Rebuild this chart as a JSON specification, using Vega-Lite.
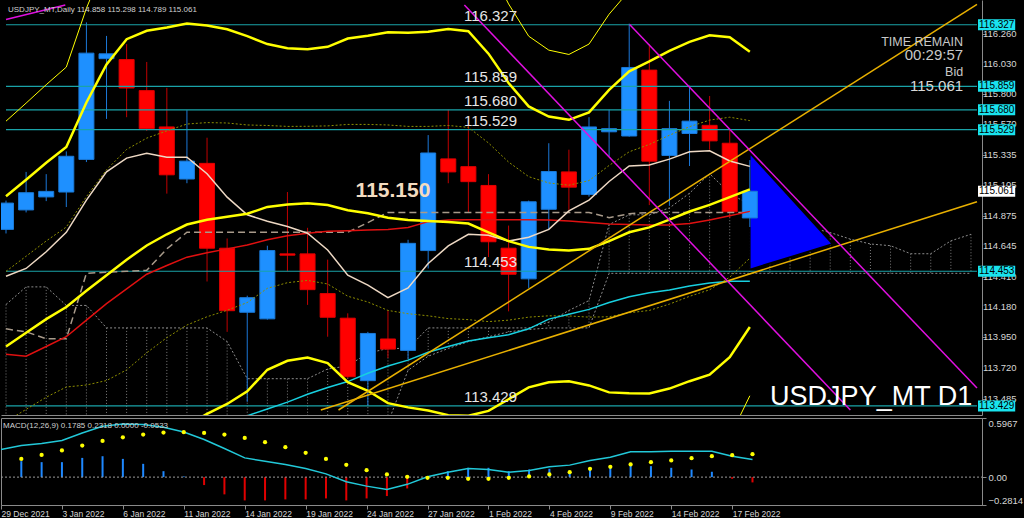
{
"$schema": "https://vega.github.io/schema/vega-lite/v6.json",
"background": "#000000",
"padding": 0,
"spacing": 2,
"config": {
  "view": {"stroke": null},
  "axis": {"grid": false, "title": null, "domainColor": "#8a8a8a", "tickColor": "#8a8a8a", "labelColor": "#d6d6d6", "labelFont": "Liberation Sans", "labelFontSize": 9.5, "labelOverlap": false, "labelFlush": false},
  "text": {"font": "Liberation Sans"}
},
"datasets": {
  "bars": [
    {"i":0,"o":114.771,"h":114.99,"l":114.74,"c":114.971},
    {"i":1,"o":114.919,"h":115.208,"l":114.9,"c":115.05},
    {"i":2,"o":115.018,"h":115.191,"l":114.986,"c":115.06},
    {"i":3,"o":115.055,"h":115.364,"l":114.941,"c":115.327},
    {"i":4,"o":115.303,"h":116.345,"l":115.283,"c":116.111},
    {"i":5,"o":116.069,"h":116.242,"l":115.611,"c":116.106},
    {"i":6,"o":116.062,"h":116.18,"l":115.624,"c":115.846},
    {"i":7,"o":115.826,"h":116.044,"l":115.52,"c":115.537},
    {"i":8,"o":115.55,"h":115.847,"l":115.043,"c":115.186},
    {"i":9,"o":115.154,"h":115.678,"l":115.122,"c":115.29},
    {"i":10,"o":115.273,"h":115.468,"l":114.375,"c":114.628},
    {"i":11,"o":114.628,"h":114.702,"l":113.992,"c":114.153},
    {"i":12,"o":114.141,"h":114.267,"l":113.46,"c":114.252},
    {"i":13,"o":114.091,"h":114.647,"l":114.085,"c":114.61},
    {"i":14,"o":114.585,"h":115.055,"l":114.453,"c":114.575},
    {"i":15,"o":114.585,"h":114.783,"l":114.197,"c":114.313},
    {"i":16,"o":114.283,"h":114.541,"l":113.955,"c":114.103},
    {"i":17,"o":114.096,"h":114.133,"l":113.64,"c":113.651},
    {"i":18,"o":113.621,"h":113.992,"l":113.429,"c":113.98},
    {"i":19,"o":113.938,"h":114.153,"l":113.794,"c":113.861},
    {"i":20,"o":113.851,"h":114.692,"l":113.785,"c":114.665},
    {"i":21,"o":114.61,"h":115.488,"l":114.474,"c":115.352},
    {"i":22,"o":115.307,"h":115.681,"l":115.122,"c":115.208},
    {"i":23,"o":115.248,"h":115.599,"l":114.897,"c":115.134},
    {"i":24,"o":115.105,"h":115.191,"l":114.561,"c":114.677},
    {"i":25,"o":114.628,"h":114.8,"l":114.148,"c":114.43},
    {"i":26,"o":114.395,"h":114.99,"l":114.326,"c":114.981},
    {"i":27,"o":114.924,"h":115.426,"l":114.771,"c":115.211},
    {"i":28,"o":115.208,"h":115.377,"l":114.919,"c":115.092},
    {"i":29,"o":115.036,"h":115.624,"l":115.02,"c":115.55},
    {"i":30,"o":115.513,"h":115.681,"l":115.327,"c":115.537},
    {"i":31,"o":115.481,"h":116.335,"l":115.476,"c":116.002},
    {"i":32,"o":115.982,"h":116.18,"l":114.956,"c":115.29},
    {"i":33,"o":115.333,"h":115.748,"l":114.95,"c":115.537},
    {"i":34,"o":115.5,"h":115.864,"l":115.253,"c":115.594},
    {"i":35,"o":115.562,"h":115.785,"l":115.377,"c":115.444},
    {"i":36,"o":115.426,"h":115.525,"l":114.86,"c":114.905},
    {"i":37,"o":114.858,"h":115.298,"l":114.789,"c":115.061}
  ],
  "ind": [
    {"i":0,"u3":115.594,"u2":115.023,"u1":114.452,"m":113.881,"l1":113.31,"l2":112.739,"l3":112.168,"a5":114.415,"a25":113.822,"kj":114.015},
    {"i":1,"u3":115.731,"u2":115.149,"u1":114.567,"m":113.985,"l1":113.403,"l2":112.821,"l3":112.239,"a5":114.474,"a25":113.807,"kj":113.992},
    {"i":2,"u3":115.871,"u2":115.277,"u1":114.683,"m":114.089,"l1":113.495,"l2":112.901,"l3":112.307,"a5":114.601,"a25":113.881,"kj":113.94},
    {"i":3,"u3":116.005,"u2":115.397,"u1":114.789,"m":114.181,"l1":113.573,"l2":112.965,"l3":112.357,"a5":114.749,"a25":113.955,"kj":113.94},
    {"i":4,"u3":116.452,"u2":115.736,"u1":115.02,"m":114.304,"l1":113.588,"l2":112.872,"l3":112.156,"a5":114.994,"a25":114.081,"kj":114.437},
    {"i":5,"u3":116.826,"u2":116.025,"u1":115.224,"m":114.423,"l1":113.622,"l2":112.821,"l3":112.02,"a5":115.209,"a25":114.207,"kj":114.445},
    {"i":6,"u3":117.055,"u2":116.217,"u1":115.379,"m":114.541,"l1":113.703,"l2":112.865,"l3":112.027,"a5":115.313,"a25":114.319,"kj":114.452},
    {"i":7,"u3":117.097,"u2":116.281,"u1":115.465,"m":114.649,"l1":113.833,"l2":113.017,"l3":112.201,"a5":115.35,"a25":114.43,"kj":114.46},
    {"i":8,"u3":117.092,"u2":116.306,"u1":115.52,"m":114.734,"l1":113.948,"l2":113.162,"l3":112.376,"a5":115.32,"a25":114.497,"kj":114.623},
    {"i":9,"u3":117.1,"u2":116.336,"u1":115.572,"m":114.808,"l1":114.044,"l2":113.28,"l3":112.516,"a5":115.32,"a25":114.56,"kj":114.749},
    {"i":10,"u3":117.059,"u2":116.321,"u1":115.583,"m":114.845,"l1":114.107,"l2":113.369,"l3":112.631,"a5":115.194,"a25":114.593,"a75":113.243,"kj":114.749},
    {"i":11,"u3":117.004,"u2":116.292,"u1":115.58,"m":114.868,"l1":114.156,"l2":113.444,"l3":112.732,"a5":115.016,"a25":114.623,"a75":113.302,"kj":114.749},
    {"i":12,"u3":116.915,"u2":116.24,"u1":115.565,"m":114.89,"l1":114.215,"l2":113.54,"l3":112.865,"a5":114.882,"a25":114.652,"a75":113.354,"kj":114.749},
    {"i":13,"u3":116.799,"u2":116.18,"u1":115.561,"m":114.942,"l1":114.323,"l2":113.704,"l3":113.085,"a5":114.833,"a25":114.693,"a75":113.406,"kj":114.749},
    {"i":14,"u3":116.742,"u2":116.148,"u1":115.554,"m":114.96,"l1":114.366,"l2":113.772,"l3":113.178,"a5":114.793,"a25":114.723,"a75":113.458,"kj":114.749},
    {"i":15,"u3":116.727,"u2":116.141,"u1":115.555,"m":114.969,"l1":114.383,"l2":113.797,"l3":113.211,"a5":114.742,"a25":114.742,"a75":113.518,"kj":114.749},
    {"i":16,"u3":116.76,"u2":116.159,"u1":115.558,"m":114.957,"l1":114.356,"l2":113.755,"l3":113.154,"a5":114.615,"a25":114.756,"a75":113.569,"kj":114.749},
    {"i":17,"u3":116.875,"u2":116.222,"u1":115.569,"m":114.916,"l1":114.263,"l2":113.61,"l3":112.957,"a5":114.423,"a25":114.76,"a75":113.614,"kj":114.749},
    {"i":18,"u3":116.919,"u2":116.244,"u1":115.569,"m":114.894,"l1":114.219,"l2":113.544,"l3":112.869,"a5":114.348,"a25":114.767,"a75":113.677,"kj":114.823},
    {"i":19,"u3":116.975,"u2":116.27,"u1":115.565,"m":114.86,"l1":114.155,"l2":113.45,"l3":112.745,"a5":114.252,"a25":114.771,"a75":113.733,"kj":114.9},
    {"i":20,"u3":116.978,"u2":116.266,"u1":115.554,"m":114.842,"l1":114.13,"l2":113.418,"l3":112.706,"a5":114.326,"a25":114.786,"a75":113.777,"kj":114.9},
    {"i":21,"u3":116.994,"u2":116.274,"u1":115.554,"m":114.834,"l1":114.114,"l2":113.394,"l3":112.674,"a5":114.512,"a25":114.83,"a75":113.837,"kj":114.9},
    {"i":22,"u3":117.029,"u2":116.295,"u1":115.561,"m":114.827,"l1":114.093,"l2":113.359,"l3":112.625,"a5":114.645,"a25":114.842,"a75":113.881,"kj":114.9},
    {"i":23,"u3":117.009,"u2":116.278,"u1":115.547,"m":114.816,"l1":114.085,"l2":113.354,"l3":112.623,"a5":114.734,"a25":114.845,"a75":113.922,"kj":114.9},
    {"i":24,"u3":116.786,"u2":116.107,"u1":115.428,"m":114.749,"l1":114.07,"l2":113.391,"l3":112.712,"a5":114.727,"a25":114.845,"a75":113.948,"kj":114.9},
    {"i":25,"u3":116.485,"u2":115.884,"u1":115.283,"m":114.682,"l1":114.081,"l2":113.48,"l3":112.879,"a5":114.682,"a25":114.845,"a75":113.97,"kj":114.9},
    {"i":26,"u3":116.24,"u2":115.706,"u1":115.172,"m":114.638,"l1":114.104,"l2":113.57,"l3":113.036,"a5":114.712,"a25":114.845,"a75":114.015,"kj":114.9},
    {"i":27,"u3":116.134,"u2":115.629,"u1":115.124,"m":114.619,"l1":114.114,"l2":113.609,"l3":113.104,"a5":114.771,"a25":114.842,"a75":114.089,"kj":114.9},
    {"i":28,"u3":116.101,"u2":115.604,"u1":115.107,"m":114.61,"l1":114.113,"l2":113.616,"l3":113.119,"a5":114.912,"a25":114.834,"a75":114.126,"kj":114.9},
    {"i":29,"u3":116.18,"u2":115.661,"u1":115.142,"m":114.623,"l1":114.104,"l2":113.585,"l3":113.066,"a5":114.994,"a25":114.823,"a75":114.163,"kj":114.9},
    {"i":30,"u3":116.407,"u2":115.832,"u1":115.257,"m":114.682,"l1":114.107,"l2":113.532,"l3":112.957,"a5":115.135,"a25":114.812,"a75":114.215,"kj":114.86},
    {"i":31,"u3":116.585,"u2":115.973,"u1":115.361,"m":114.749,"l1":114.137,"l2":113.525,"l3":112.913,"a5":115.253,"a25":114.808,"a75":114.259,"kj":114.89},
    {"i":32,"u3":116.679,"u2":116.048,"u1":115.417,"m":114.786,"l1":114.155,"l2":113.524,"l3":112.893,"a5":115.261,"a25":114.805,"a75":114.289,"kj":114.9},
    {"i":33,"u3":116.771,"u2":116.129,"u1":115.487,"m":114.845,"l1":114.203,"l2":113.561,"l3":112.919,"a5":115.305,"a25":114.805,"a75":114.311,"kj":114.9},
    {"i":34,"u3":116.842,"u2":116.197,"u1":115.552,"m":114.907,"l1":114.262,"l2":113.617,"l3":112.972,"a5":115.361,"a25":114.816,"a75":114.341,"kj":114.9},
    {"i":35,"u3":116.892,"u2":116.247,"u1":115.602,"m":114.957,"l1":114.312,"l2":113.667,"l3":113.022,"a5":115.368,"a25":114.842,"a75":114.363,"kj":114.9},
    {"i":36,"u3":116.84,"u2":116.232,"u1":115.624,"m":115.016,"l1":114.408,"l2":113.8,"l3":113.192,"a5":115.291,"a25":114.875,"a75":114.376,"kj":114.9},
    {"i":37,"u3":116.644,"u2":116.121,"u1":115.598,"m":115.075,"l1":114.552,"l2":114.029,"l3":113.506,"a5":115.25,"a25":114.908,"a75":114.376,"kj":114.9}
  ],
  "cloud": [
    {"i":0,"a":114.2,"b":113.3},{"i":1,"a":114.334,"b":113.3},{"i":2,"a":114.334,"b":113.3},{"i":3,"a":114.193,"b":113.3},
    {"i":4,"a":114.193,"b":113.3},{"i":5,"a":114.022,"b":113.3},{"i":6,"a":114.022,"b":113.3},{"i":7,"a":114.022,"b":113.3},
    {"i":8,"a":114.022,"b":113.3},{"i":9,"a":114.022,"b":113.3},{"i":10,"a":114.022,"b":113.3},{"i":11,"a":113.918,"b":113.3},
    {"i":12,"a":113.636,"b":113.3},{"i":13,"a":113.636,"b":113.3},{"i":14,"a":113.636,"b":113.3},{"i":15,"a":113.636,"b":113.3},
    {"i":16,"a":113.71,"b":113.3},{"i":17,"a":113.733,"b":113.3},{"i":18,"a":113.83,"b":113.3},{"i":19,"a":113.866,"b":113.3},
    {"i":20,"a":113.866,"b":113.7},{"i":21,"a":114.022,"b":113.807},{"i":22,"a":114.022,"b":113.866},{"i":23,"a":114.022,"b":113.918},
    {"i":24,"a":114.022,"b":113.955},{"i":25,"a":114.022,"b":113.992},{"i":26,"a":114.022,"b":114.01},{"i":27,"a":114.066,"b":114.022},
    {"i":28,"a":114.155,"b":114.022},{"i":29,"a":114.23,"b":114.022},{"i":30,"a":114.808,"b":114.437},{"i":31,"a":114.882,"b":114.437},
    {"i":32,"a":114.882,"b":114.437},{"i":33,"a":114.934,"b":114.437},{"i":34,"a":115.046,"b":114.437},{"i":35,"a":115.194,"b":114.437},
    {"i":36,"a":115.046,"b":114.437},{"i":37,"a":114.957,"b":114.437},{"i":38,"a":114.833,"b":114.437},{"i":39,"a":114.801,"b":114.437},
    {"i":40,"a":114.784,"b":114.437},{"i":41,"a":114.747,"b":114.437},{"i":42,"a":114.697,"b":114.437},{"i":43,"a":114.66,"b":114.437},
    {"i":44,"a":114.647,"b":114.437},{"i":45,"a":114.586,"b":114.437},{"i":46,"a":114.586,"b":114.437},{"i":47,"a":114.684,"b":114.437},
    {"i":48,"a":114.734,"b":114.437}
  ],
  "levels": [{"p":116.327},{"p":115.859},{"p":115.68},{"p":115.529},{"p":114.453},{"p":113.429}],
  "ticks": [{"p":116.26},{"p":116.03},{"p":115.8},{"p":115.57},{"p":115.335},{"p":115.105},{"p":114.875},{"p":114.645},{"p":114.41},{"p":114.18},{"p":113.95},{"p":113.72},{"p":113.485}],
  "tl": [
    {"id":"g1","k":"gold","i":16.54,"p":113.398},{"id":"g1","k":"gold","i":48.3,"p":116.482},
    {"id":"g2","k":"gold","i":15.66,"p":113.398},{"id":"g2","k":"gold","i":48.3,"p":114.981},
    {"id":"m1","k":"mag","i":22.8,"p":116.477},{"id":"m1","k":"mag","i":42.0,"p":113.398},
    {"id":"m2","k":"mag","i":31.02,"p":116.329},{"id":"m2","k":"mag","i":48.3,"p":113.565},
    {"id":"m3","k":"mag","i":0,"p":116.366},{"id":"m3","k":"mag","i":2.95,"p":116.477}
  ],
  "tri": [{"i":37,"t":115.35,"b":114.467},{"i":41.11,"t":114.66,"b":114.66}],
  "macd": [
    {"i":0,"m":0.279},{"i":1,"m":0.319,"s":0.184,"h":0.161},{"i":2,"m":0.339,"s":0.224,"h":0.151},{"i":3,"m":0.369,"s":0.269,"h":0.151},
    {"i":4,"m":0.446,"s":0.319,"h":0.194},{"i":5,"m":0.513,"s":0.365,"h":0.211},{"i":6,"m":0.536,"s":0.402,"h":0.184},{"i":7,"m":0.53,"s":0.429,"h":0.134},
    {"i":8,"m":0.503,"s":0.45,"h":0.06},{"i":9,"m":0.456,"s":0.453,"h":0.007},{"i":10,"m":0.379,"s":0.446,"h":-0.08},{"i":11,"m":0.289,"s":0.429,"h":-0.174},
    {"i":12,"m":0.194,"s":0.395,"h":-0.235},{"i":13,"m":0.161,"s":0.352,"h":-0.235},{"i":14,"m":0.128,"s":0.302,"h":-0.225},{"i":15,"m":0.088,"s":0.245,"h":-0.225},
    {"i":16,"m":0.033,"s":0.184,"h":-0.215},{"i":17,"m":-0.047,"s":0.124,"h":-0.235},{"i":18,"m":-0.091,"s":0.07,"h":-0.215},{"i":19,"m":-0.124,"s":0.027,"h":-0.191},
    {"i":20,"m":-0.073,"s":0.003,"h":-0.114},{"i":21,"m":0.003,"s":-0.007,"h":0.01},{"i":22,"m":0.05,"s":-0.007,"h":0.06},{"i":23,"m":0.088,"s":-0.017,"h":0.094},
    {"i":24,"m":0.077,"s":-0.017,"h":0.094},{"i":25,"m":0.05,"s":-0.007,"h":0.06},{"i":26,"m":0.067,"s":0.007,"h":0.077},{"i":27,"m":0.104,"s":0.027,"h":0.084},
    {"i":28,"m":0.121,"s":0.05,"h":0.06},{"i":29,"m":0.168,"s":0.084,"h":0.094},{"i":30,"m":0.201,"s":0.104,"h":0.101},{"i":31,"m":0.255,"s":0.128,"h":0.144},
    {"i":32,"m":0.255,"s":0.151,"h":0.111},{"i":33,"m":0.262,"s":0.168,"h":0.094},{"i":34,"m":0.262,"s":0.191,"h":0.077},{"i":35,"m":0.262,"s":0.211,"h":0.054},
    {"i":36,"m":0.211,"s":0.221,"h":-0.017},{"i":37,"m":0.1785,"s":0.2318,"h":-0.0533}
  ]
},
"vconcat": [
{
  "width": 981,
  "height": 415,
  "layer": [
    {"data": {"name": "cloud"}, "mark": {"type": "rule", "strokeDash": [1, 2], "color": "#7c7c7c", "clip": true},
     "encoding": {
       "x": {"field": "i", "type": "quantitative", "scale": {"domain": [0, 48.3]}, "axis": {"labels": false, "ticks": false, "domain": true}},
       "y": {"field": "a", "type": "quantitative", "scale": {"domain": [113.398, 116.477]}, "axis": {"orient": "right", "values": [116.26, 116.03, 115.8, 115.57, 115.335, 115.105, 114.875, 114.645, 114.41, 114.18, 113.95, 113.72, 113.485], "labels": false, "tickSize": 4}},
       "y2": {"field": "b"}}},
    {"data": {"name": "cloud"}, "mark": {"type": "line", "strokeDash": [2, 2], "color": "#8c8c8c", "strokeWidth": 1, "clip": true},
     "encoding": {"x": {"field": "i", "type": "quantitative", "scale": {"domain": [0, 48.3]}}, "y": {"field": "a", "type": "quantitative", "scale": {"domain": [113.398, 116.477]}}}},
    {"data": {"name": "cloud"}, "mark": {"type": "line", "strokeDash": [2, 2], "color": "#8c8c8c", "strokeWidth": 1, "clip": true},
     "encoding": {"x": {"field": "i", "type": "quantitative", "scale": {"domain": [0, 48.3]}}, "y": {"field": "b", "type": "quantitative", "scale": {"domain": [113.398, 116.477]}}}},
    {"data": {"name": "tri"}, "mark": {"type": "area", "color": "#0000ff", "stroke": "#000000", "strokeWidth": 1.5, "opacity": 1, "clip": true},
     "encoding": {"x": {"field": "i", "type": "quantitative", "scale": {"domain": [0, 48.3]}}, "y": {"field": "t", "type": "quantitative", "scale": {"domain": [113.398, 116.477]}}, "y2": {"field": "b"}}},
    {"data": {"name": "bars"}, "mark": {"type": "rule", "strokeWidth": 1, "clip": true},
     "encoding": {"x": {"field": "i", "type": "quantitative", "scale": {"domain": [0, 48.3]}}, "y": {"field": "l", "type": "quantitative", "scale": {"domain": [113.398, 116.477]}}, "y2": {"field": "h"},
       "color": {"condition": {"test": "datum.c >= datum.o", "value": "#1c78d8"}, "value": "#c00000"}}},
    {"data": {"name": "bars"}, "mark": {"type": "bar", "size": 15, "strokeWidth": 1, "clip": true},
     "encoding": {"x": {"field": "i", "type": "quantitative", "scale": {"domain": [0, 48.3]}}, "y": {"field": "o", "type": "quantitative", "scale": {"domain": [113.398, 116.477]}}, "y2": {"field": "c"},
       "color": {"condition": {"test": "datum.c >= datum.o", "value": "#1e90ff"}, "value": "#ff0000"},
       "stroke": {"condition": {"test": "datum.c >= datum.o", "value": "#1a7ad8"}, "value": "#e00000"}}},
    {"data": {"name": "levels"}, "mark": {"type": "rule", "color": "#1aa3a8", "strokeWidth": 1.2},
     "encoding": {"x": {"datum": 0, "type": "quantitative", "scale": {"domain": [0, 48.3]}}, "x2": {"datum": 48.3}, "y": {"field": "p", "type": "quantitative", "scale": {"domain": [113.398, 116.477]}}}},
    {"data": {"name": "ind"}, "mark": {"type": "line", "color": "#ffff00", "strokeWidth": 1, "clip": true},
     "encoding": {"x": {"field": "i", "type": "quantitative", "scale": {"domain": [0, 48.3]}}, "y": {"field": "u3", "type": "quantitative", "scale": {"domain": [113.398, 116.477]}}}},
    {"data": {"name": "ind"}, "mark": {"type": "line", "color": "#ffff00", "strokeWidth": 1, "clip": true},
     "encoding": {"x": {"field": "i", "type": "quantitative", "scale": {"domain": [0, 48.3]}}, "y": {"field": "l3", "type": "quantitative", "scale": {"domain": [113.398, 116.477]}}}},
    {"data": {"name": "ind"}, "mark": {"type": "line", "color": "#8f8f00", "strokeWidth": 1, "strokeDash": [2, 2], "clip": true},
     "encoding": {"x": {"field": "i", "type": "quantitative", "scale": {"domain": [0, 48.3]}}, "y": {"field": "u1", "type": "quantitative", "scale": {"domain": [113.398, 116.477]}}}},
    {"data": {"name": "ind"}, "mark": {"type": "line", "color": "#8f8f00", "strokeWidth": 1, "strokeDash": [2, 2], "clip": true},
     "encoding": {"x": {"field": "i", "type": "quantitative", "scale": {"domain": [0, 48.3]}}, "y": {"field": "l1", "type": "quantitative", "scale": {"domain": [113.398, 116.477]}}}},
    {"data": {"name": "ind"}, "mark": {"type": "line", "color": "#a89a8a", "strokeWidth": 1.5, "strokeDash": [7, 4], "clip": true},
     "encoding": {"x": {"field": "i", "type": "quantitative", "scale": {"domain": [0, 48.3]}}, "y": {"field": "kj", "type": "quantitative", "scale": {"domain": [113.398, 116.477]}}}},
    {"data": {"name": "ind"}, "mark": {"type": "line", "color": "#e01010", "strokeWidth": 1.5, "clip": true},
     "encoding": {"x": {"field": "i", "type": "quantitative", "scale": {"domain": [0, 48.3]}}, "y": {"field": "a25", "type": "quantitative", "scale": {"domain": [113.398, 116.477]}}}},
    {"data": {"name": "ind"}, "mark": {"type": "line", "color": "#18d0e0", "strokeWidth": 1.5, "clip": true},
     "encoding": {"x": {"field": "i", "type": "quantitative", "scale": {"domain": [0, 48.3]}}, "y": {"field": "a75", "type": "quantitative", "scale": {"domain": [113.398, 116.477]}}}},
    {"data": {"name": "ind"}, "mark": {"type": "line", "color": "#eed9c4", "strokeWidth": 1.5, "clip": true},
     "encoding": {"x": {"field": "i", "type": "quantitative", "scale": {"domain": [0, 48.3]}}, "y": {"field": "a5", "type": "quantitative", "scale": {"domain": [113.398, 116.477]}}}},
    {"data": {"name": "ind"}, "mark": {"type": "line", "color": "#ffff00", "strokeWidth": 2.5, "clip": true},
     "encoding": {"x": {"field": "i", "type": "quantitative", "scale": {"domain": [0, 48.3]}}, "y": {"field": "u2", "type": "quantitative", "scale": {"domain": [113.398, 116.477]}}}},
    {"data": {"name": "ind"}, "mark": {"type": "line", "color": "#ffff00", "strokeWidth": 2.5, "clip": true},
     "encoding": {"x": {"field": "i", "type": "quantitative", "scale": {"domain": [0, 48.3]}}, "y": {"field": "m", "type": "quantitative", "scale": {"domain": [113.398, 116.477]}}}},
    {"data": {"name": "ind"}, "mark": {"type": "line", "color": "#ffff00", "strokeWidth": 2.5, "clip": true},
     "encoding": {"x": {"field": "i", "type": "quantitative", "scale": {"domain": [0, 48.3]}}, "y": {"field": "l2", "type": "quantitative", "scale": {"domain": [113.398, 116.477]}}}},
    {"data": {"name": "tl"}, "mark": {"type": "line", "strokeWidth": 1.5, "clip": true},
     "encoding": {"x": {"field": "i", "type": "quantitative", "scale": {"domain": [0, 48.3]}}, "y": {"field": "p", "type": "quantitative", "scale": {"domain": [113.398, 116.477]}},
       "detail": {"field": "id"},
       "color": {"field": "k", "type": "nominal", "scale": {"domain": ["gold", "mag"], "range": ["#e8b000", "#e010e0"]}, "legend": null}}},
    {"data": {"name": "ticks"}, "mark": {"type": "text", "align": "left", "baseline": "middle", "dx": 6, "fontSize": 9.5, "color": "#d6d6d6"},
     "encoding": {"x": {"datum": 48.3, "type": "quantitative", "scale": {"domain": [0, 48.3]}}, "y": {"field": "p", "type": "quantitative", "scale": {"domain": [113.398, 116.477]}}, "text": {"field": "p", "type": "quantitative", "format": ".3f"}}},
    {"data": {"name": "levels"}, "mark": {"type": "text", "align": "center", "baseline": "bottom", "dy": -1, "fontSize": 15, "color": "#e6e6e6"},
     "encoding": {"x": {"datum": 24.1, "type": "quantitative", "scale": {"domain": [0, 48.3]}}, "y": {"field": "p", "type": "quantitative", "scale": {"domain": [113.398, 116.477]}}, "text": {"field": "p", "type": "quantitative", "format": ".3f"}}},
    {"data": {"name": "levels"}, "mark": {"type": "bar", "size": 11, "color": "#19e3ee"},
     "encoding": {"x": {"datum": 48.35, "type": "quantitative", "scale": {"domain": [0, 48.3]}}, "x2": {"datum": 50.2}, "y": {"field": "p", "type": "quantitative", "scale": {"domain": [113.398, 116.477]}}}},
    {"data": {"name": "levels"}, "mark": {"type": "text", "align": "left", "baseline": "middle", "dx": 1, "fontSize": 10, "color": "#000000"},
     "encoding": {"x": {"datum": 48.35, "type": "quantitative", "scale": {"domain": [0, 48.3]}}, "y": {"field": "p", "type": "quantitative", "scale": {"domain": [113.398, 116.477]}}, "text": {"field": "p", "type": "quantitative", "format": ".3f"}}},
    {"data": {"values": [{"p": 115.061}]}, "mark": {"type": "bar", "size": 11, "color": "#ffffff"},
     "encoding": {"x": {"datum": 48.35, "type": "quantitative", "scale": {"domain": [0, 48.3]}}, "x2": {"datum": 50.2}, "y": {"field": "p", "type": "quantitative", "scale": {"domain": [113.398, 116.477]}}}},
    {"data": {"values": [{"p": 115.061}]}, "mark": {"type": "text", "align": "left", "baseline": "middle", "dx": 1, "fontSize": 10, "color": "#000000"},
     "encoding": {"x": {"datum": 48.35, "type": "quantitative", "scale": {"domain": [0, 48.3]}}, "y": {"field": "p", "type": "quantitative", "scale": {"domain": [113.398, 116.477]}}, "text": {"field": "p", "type": "quantitative", "format": ".3f"}}},
    {"data": {"values": [{}]}, "mark": {"type": "text", "align": "left", "baseline": "middle", "fontSize": 8, "color": "#d0d0d0", "text": "USDJPY_MT,Daily  114.858 115.298 114.789 115.061"},
     "encoding": {"x": {"datum": 0.1, "type": "quantitative", "scale": {"domain": [0, 48.3]}}, "y": {"datum": 116.44, "type": "quantitative", "scale": {"domain": [113.398, 116.477]}}}},
    {"data": {"values": [{}]}, "mark": {"type": "text", "align": "center", "baseline": "alphabetic", "fontSize": 21, "fontWeight": "bold", "color": "#f3dcc0", "text": "115.150"},
     "encoding": {"x": {"datum": 19.25, "type": "quantitative", "scale": {"domain": [0, 48.3]}}, "y": {"datum": 115.016, "type": "quantitative", "scale": {"domain": [113.398, 116.477]}}}},
    {"data": {"values": [{}]}, "mark": {"type": "text", "align": "right", "baseline": "alphabetic", "fontSize": 12.5, "color": "#c8c8c8", "text": "TIME REMAIN"},
     "encoding": {"x": {"datum": 47.61, "type": "quantitative", "scale": {"domain": [0, 48.3]}}, "y": {"datum": 116.168, "type": "quantitative", "scale": {"domain": [113.398, 116.477]}}}},
    {"data": {"values": [{}]}, "mark": {"type": "text", "align": "right", "baseline": "alphabetic", "fontSize": 15, "color": "#c8c8c8", "text": "00:29:57"},
     "encoding": {"x": {"datum": 47.61, "type": "quantitative", "scale": {"domain": [0, 48.3]}}, "y": {"datum": 116.06, "type": "quantitative", "scale": {"domain": [113.398, 116.477]}}}},
    {"data": {"values": [{}]}, "mark": {"type": "text", "align": "right", "baseline": "alphabetic", "fontSize": 12.5, "color": "#c8c8c8", "text": "Bid"},
     "encoding": {"x": {"datum": 47.61, "type": "quantitative", "scale": {"domain": [0, 48.3]}}, "y": {"datum": 115.94, "type": "quantitative", "scale": {"domain": [113.398, 116.477]}}}},
    {"data": {"values": [{}]}, "mark": {"type": "text", "align": "right", "baseline": "alphabetic", "fontSize": 15, "color": "#d8d8d8", "text": "115.061"},
     "encoding": {"x": {"datum": 47.61, "type": "quantitative", "scale": {"domain": [0, 48.3]}}, "y": {"datum": 115.82, "type": "quantitative", "scale": {"domain": [113.398, 116.477]}}}},
    {"data": {"values": [{}]}, "mark": {"type": "text", "align": "right", "baseline": "alphabetic", "fontSize": 27, "color": "#ffffff", "text": "USDJPY_MT D1"},
     "encoding": {"x": {"datum": 48.06, "type": "quantitative", "scale": {"domain": [0, 48.3]}}, "y": {"datum": 113.436, "type": "quantitative", "scale": {"domain": [113.398, 116.477]}}}}
  ]
},
{
  "width": 981,
  "height": 87,
  "view": {"stroke": "#8a8a8a"},
  "layer": [
    {"data": {"name": "macd"}, "transform": [{"filter": "isValid(datum.h)"}], "mark": {"type": "rule", "strokeWidth": 2, "clip": true},
     "encoding": {
       "x": {"field": "i", "type": "quantitative", "scale": {"domain": [0, 48.3]},
             "axis": {"values": [0, 3, 6, 9, 12, 15, 18, 21, 24, 27, 30, 33, 36], "labelExpr": "['29 Dec 2021','3 Jan 2022','6 Jan 2022','11 Jan 2022','14 Jan 2022','19 Jan 2022','24 Jan 2022','27 Jan 2022','1 Feb 2022','4 Feb 2022','9 Feb 2022','14 Feb 2022','17 Feb 2022'][round(datum.value/3)]", "labelAlign": "left", "labelFontSize": 8.5, "tickSize": 4, "labelPadding": 0, "labelOverlap": false}},
       "y": {"field": "h", "type": "quantitative", "scale": {"domain": [-0.2814, 0.5967]},
             "axis": {"orient": "right", "values": [0.5967, 0, -0.2814], "labelExpr": "datum.value == 0 ? '0.00' : format(datum.value, '.4f')", "labelFlush": true, "tickSize": 4, "labelPadding": 2, "labelOverlap": false}},
       "y2": {"datum": 0},
       "color": {"condition": {"test": "datum.h >= 0", "value": "#1e88ff"}, "value": "#e00000"}}},
    {"data": {"values": [{}]}, "mark": {"type": "rule", "strokeDash": [2, 2], "color": "#9a9a9a", "strokeWidth": 1},
     "encoding": {"x": {"datum": 0, "type": "quantitative", "scale": {"domain": [0, 48.3]}}, "x2": {"datum": 48.3}, "y": {"datum": 0, "type": "quantitative", "scale": {"domain": [-0.2814, 0.5967]}}}},
    {"data": {"name": "macd"}, "mark": {"type": "line", "color": "#22c8d8", "strokeWidth": 1.5, "clip": true},
     "encoding": {"x": {"field": "i", "type": "quantitative", "scale": {"domain": [0, 48.3]}}, "y": {"field": "m", "type": "quantitative", "scale": {"domain": [-0.2814, 0.5967]}}}},
    {"data": {"name": "macd"}, "transform": [{"filter": "isValid(datum.s)"}], "mark": {"type": "circle", "size": 18, "color": "#ffff00", "opacity": 1, "clip": true},
     "encoding": {"x": {"field": "i", "type": "quantitative", "scale": {"domain": [0, 48.3]}}, "y": {"field": "s", "type": "quantitative", "scale": {"domain": [-0.2814, 0.5967]}}}},
    {"data": {"values": [{}]}, "mark": {"type": "text", "align": "left", "baseline": "middle", "fontSize": 8, "color": "#d0d0d0", "text": "MACD(12,26,9) 0.1785 0.2318 0.0000 -0.0533"},
     "encoding": {"x": {"datum": 0.1, "type": "quantitative", "scale": {"domain": [0, 48.3]}}, "y": {"datum": 0.52, "type": "quantitative", "scale": {"domain": [-0.2814, 0.5967]}}}}
  ]
}
]
}
